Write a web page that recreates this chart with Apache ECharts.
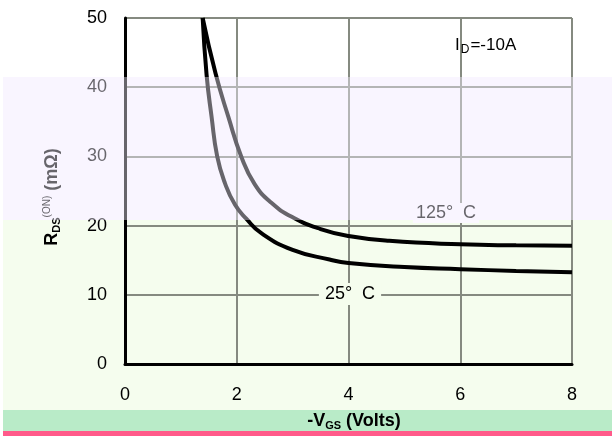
<!DOCTYPE html>
<html>
<head>
<meta charset="utf-8">
<script src="https://cdn.jsdelivr.net/npm/echarts@6/dist/echarts.min.js"></script>
<style>html,body{margin:0;padding:0;background:#fff}#c{width:612px;height:436px}</style>
</head>
<body>
<div id="c"></div>
<script>
// Data
var vgs25 = [1.39, 1.46, 1.55, 1.65, 1.79, 1.97, 2.17, 2.44, 3.0, 3.66, 4.0, 5.0, 6.0, 7.0, 8.0];
var rds25 = [50, 41.8, 35.7, 30, 26.1, 23.0, 21.0, 18.9, 16.5, 15.1, 14.6, 14.0, 13.7, 13.45, 13.25];
var vgs125 = [1.39, 1.62, 1.85, 2.08, 2.32, 2.62, 3.0, 3.5, 4.0, 4.73, 6.0, 7.0, 8.0];
var rds125 = [50, 42, 35.7, 30, 26, 23.3, 21.2, 19.5, 18.5, 17.8, 17.3, 17.15, 17.1];
var xTicks = [0, 2, 4, 6, 8];
var yTicks = [0, 10, 20, 30, 40, 50];
var label25 = '25°  C';
var label125 = '125°  C';

function pairs(xs, ys) { return xs.map(function (x, i) { return [x, ys[i]]; }); }

var chart = echarts.init(document.getElementById('c'), null, { renderer: 'canvas' });
var font = 'Liberation Sans, Arial, sans-serif';
chart.setOption({
  backgroundColor: '#ffffff',
  animation: false,
  grid: { left: 125, right: 40, top: 18, bottom: 72, containLabel: false },
  xAxis: {
    type: 'value', min: xTicks[0], max: xTicks[xTicks.length - 1], interval: 2,
    axisLine: { show: true, onZero: false, lineStyle: { color: '#000', width: 3 } },
    axisTick: { show: false },
    axisLabel: { margin: 22, fontSize: 18, color: '#000', fontFamily: font },
    splitLine: { show: true, lineStyle: { color: '#858a80', width: 2 } }
  },
  yAxis: {
    type: 'value', min: yTicks[0], max: yTicks[yTicks.length - 1], interval: 10,
    axisLine: { show: true, lineStyle: { color: '#000', width: 3 } },
    axisTick: { show: false },
    axisLabel: { margin: 18, fontSize: 18, color: '#000', fontFamily: font },
    splitLine: { show: true, lineStyle: { color: '#858a80', width: 2 } }
  },
  series: [
    { type: 'line', data: pairs(vgs125, rds125), smooth: 0.5, showSymbol: false,
      lineStyle: { color: '#000', width: 4 }, z: 5 },
    { type: 'line', data: pairs(vgs25, rds25), smooth: 0.5, showSymbol: false,
      lineStyle: { color: '#000', width: 4 }, z: 5 }
  ],
  graphic: [
    { type: 'rect', z: -10, shape: { x: 3, y: 77, width: 609, height: 143 }, style: { fill: '#fbf8ff' }, silent: true },
    { type: 'rect', z: -10, shape: { x: 3, y: 220, width: 609, height: 190 }, style: { fill: '#f5fdee' }, silent: true },
    { type: 'rect', z: -10, shape: { x: 3, y: 410, width: 609, height: 21 }, style: { fill: '#b9ebc8' }, silent: true },
    { type: 'rect', z: -10, shape: { x: 3, y: 431, width: 609, height: 5 }, style: { fill: '#ff5a8a' }, silent: true },
    { type: 'text', z: 50, x: 455, y: 45, style: {
        text: '{a|I}{s|D}{a|=-10A}', verticalAlign: 'middle',
        rich: { a: { fontSize: 17, fontFamily: font, fill: '#000' },
                s: { fontSize: 12, fontFamily: font, fill: '#000', padding: [10, 1, 0, 1] } } } },
    { type: 'text', z: 50, x: 350, y: 294, style: {
        text: label25, align: 'center', verticalAlign: 'middle', fontSize: 18, fontFamily: font, fill: '#000',
        backgroundColor: '#f5fdee', padding: [2, 6, 2, 6] } },
    { type: 'text', z: 50, x: 446, y: 213, style: {
        text: label125, align: 'center', verticalAlign: 'middle', fontSize: 18, fontFamily: font, fill: '#000',
        backgroundColor: '#fbf8ff', padding: [1, 3, 1, 3] } },
    { type: 'text', z: 50, x: 52, y: 197, rotation: Math.PI / 2, style: {
        text: '{b|R}{s|DS}{o|(ON)}{b| (m\u03A9)}', align: 'center', verticalAlign: 'middle',
        rich: {
          b: { fontSize: 18, fontWeight: 'bold', fontFamily: font, fill: '#000' },
          s: { fontSize: 11, fontWeight: 'bold', fontFamily: font, fill: '#000', padding: [9, 0, 0, 0] },
          o: { fontSize: 10, fontFamily: font, fill: '#000', padding: [0, 0, 9, 0] }
        } } },
    { type: 'text', z: 50, x: 354, y: 421, style: {
        text: '{b|-V}{s|GS}{b| (Volts)}', align: 'center', verticalAlign: 'middle',
        rich: {
          b: { fontSize: 18, fontWeight: 'bold', fontFamily: font, fill: '#000' },
          s: { fontSize: 11, fontWeight: 'bold', fontFamily: font, fill: '#000', padding: [9, 0, 0, 0] }
        } } },
    { type: 'rect', z: 100, shape: { x: 3, y: 77, width: 609, height: 143 }, style: { fill: 'rgba(245,240,255,0.42)' }, silent: true }
  ]
});
</script>
</body>
</html>
